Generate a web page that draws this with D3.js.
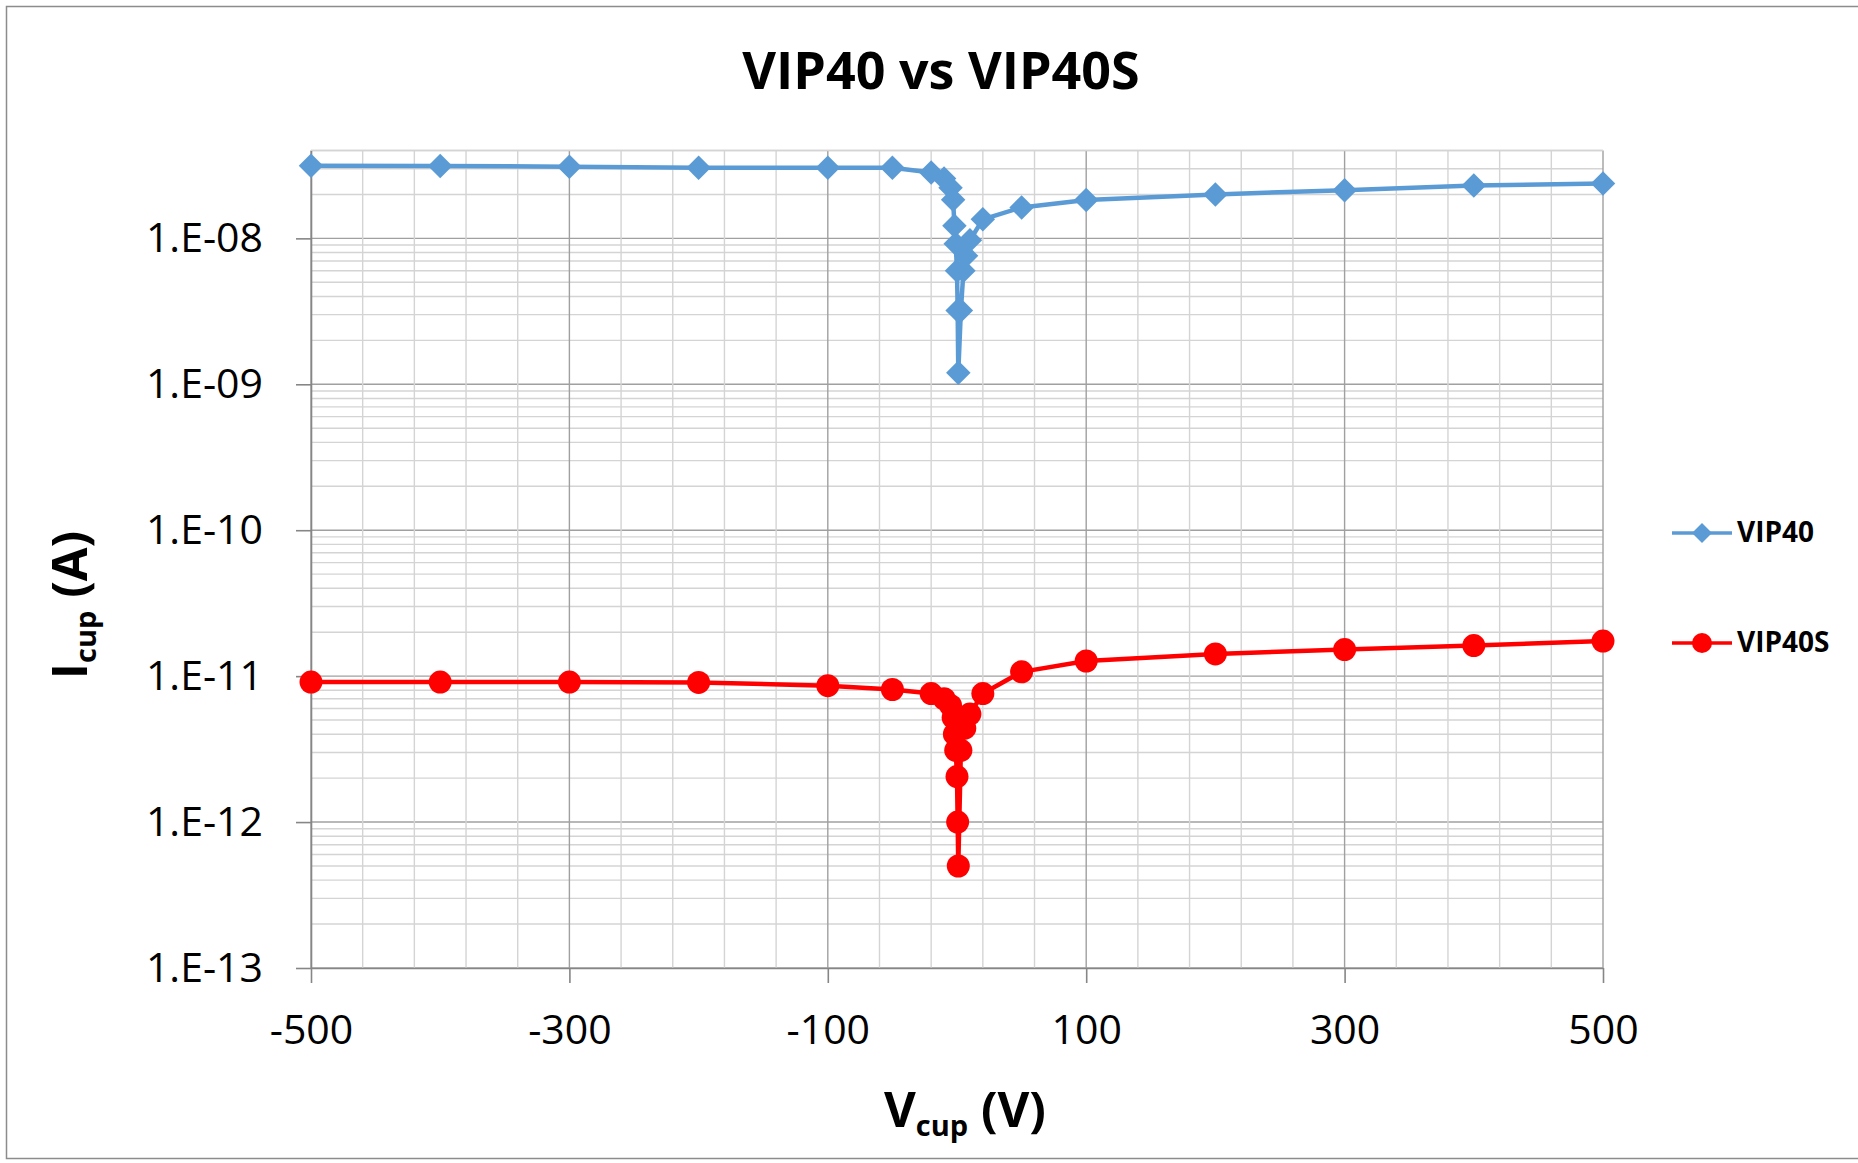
<!DOCTYPE html>
<html>
<head>
<meta charset="utf-8">
<script src="https://cdn.jsdelivr.net/npm/d3@7"></script>
<style>
  body { margin: 0; background: #fff; }
  svg { display: block; }
  text { font-family: "Open Sans", sans-serif; fill: #000; }
</style>
</head>
<body>
<script>
// VIP40 (diamonds), Vcup in V, Icup in A
var vip40V = [-500, -400, -300, -200, -100, -50, -20, -10, -5, -3, -2, -1, 0, 0.5, 1,
              3, 5, 7, 10, 20, 50, 100, 200, 300, 400, 500];
var vip40I = [3.15e-8, 3.13e-8, 3.1e-8, 3.05e-8, 3.05e-8, 3.05e-8, 2.83e-8, 2.57e-8, 2.22e-8,
              1.84e-8, 1.22e-8, 9.2e-9, 6.0e-9, 3.2e-9, 1.2e-9,
              3.2e-9, 6.0e-9, 7.6e-9, 9.7e-9, 1.35e-8, 1.63e-8, 1.83e-8, 2.0e-8, 2.14e-8, 2.3e-8, 2.38e-8];

// VIP40S (circles)
var vip40sV = [-500, -400, -300, -200, -100, -50, -20, -10, -5, -3, -2, -1, 0, 0.5, 1,
               3, 6, 10, 20, 50, 100, 200, 300, 400, 500];
var vip40sI = [9.1e-12, 9.1e-12, 9.1e-12, 9.05e-12, 8.6e-12, 8.1e-12, 7.6e-12, 7.0e-12, 6.3e-12,
               5.2e-12, 4.0e-12, 3.1e-12, 2.05e-12, 1.0e-12, 5.0e-13,
               3.1e-12, 4.4e-12, 5.5e-12, 7.6e-12, 1.07e-11, 1.27e-11, 1.42e-11, 1.52e-11, 1.62e-11, 1.74e-11];

var seriesNames = ['VIP40', 'VIP40S'];
var seriesColors = ['#5b9bd5', '#ff0000'];

var xTicks = [-500, -300, -100, 100, 300, 500];
var yTicks = [1e-13, 1e-12, 1e-11, 1e-10, 1e-9, 1e-8];
var yTickLabels = ['1.E-13', '1.E-12', '1.E-11', '1.E-10', '1.E-09', '1.E-08'];

var width = 1858, height = 1163;
var plot = {left: 311, right: 1603, top: 150.5, bottom: 968};

var svg = d3.select('body').append('svg')
  .attr('width', width)
  .attr('height', height);

// outer chart border
svg.append('rect')
  .attr('x', 6.5).attr('y', 6.5)
  .attr('width', width).attr('height', 1152)
  .attr('fill', 'none')
  .attr('stroke', '#8c8c8c')
  .attr('stroke-width', 1.5);

var x = d3.scaleLinear().domain([-500, 500]).range([plot.left, plot.right]);
var y = d3.scaleLog().domain([1e-13, 4e-8]).range([plot.bottom, plot.top]);

function isDecade(v) {
  var l = Math.log10(v);
  return Math.abs(l - Math.round(l)) < 1e-6;
}

// gridlines
var grid = svg.append('g');
var xGrid = d3.range(-500, 501, 40);
var yGrid = y.ticks();

grid.selectAll('.ygrid')
  .data(yGrid)
  .enter().append('line')
  .attr('x1', plot.left).attr('x2', plot.right)
  .attr('y1', function(d) { return y(d); })
  .attr('y2', function(d) { return y(d); })
  .attr('stroke', function(d) { return isDecade(d) ? '#a0a0a0' : '#d4d4d4'; })
  .attr('stroke-width', 1.4);

grid.selectAll('.xgrid')
  .data(xGrid)
  .enter().append('line')
  .attr('y1', plot.top).attr('y2', plot.bottom)
  .attr('x1', function(d) { return x(d); })
  .attr('x2', function(d) { return x(d); })
  .attr('stroke', function(d) { return (d + 500) % 200 === 0 ? '#a0a0a0' : '#d4d4d4'; })
  .attr('stroke-width', 1.4);

// top border of the plot area
grid.append('line')
  .attr('x1', plot.left).attr('x2', plot.right)
  .attr('y1', plot.top).attr('y2', plot.top)
  .attr('stroke', '#d4d4d4').attr('stroke-width', 1.4);

// axes
var xAxis = svg.append('g')
  .attr('transform', 'translate(0,' + plot.bottom + ')')
  .call(d3.axisBottom(x).tickValues(xTicks).tickSize(15).tickSizeOuter(0).tickPadding(32)
    .tickFormat(function(d) { return d; }));

var yAxis = svg.append('g')
  .attr('transform', 'translate(' + plot.left + ',0)')
  .call(d3.axisLeft(y).tickValues(yTicks).tickSize(15).tickSizeOuter(0).tickPadding(33)
    .tickFormat(function(d, i) { return yTickLabels[i]; }));

[xAxis, yAxis].forEach(function(a) {
  a.select('.domain').attr('stroke', '#868686').attr('stroke-width', 1.6);
  a.selectAll('.tick line').attr('stroke', '#868686').attr('stroke-width', 1.6);
  a.selectAll('.tick text')
    .attr('font-family', '"Open Sans", sans-serif')
    .attr('font-size', 41)
    .attr('fill', '#000');
});

// series
var series = [
  {name: seriesNames[0], color: seriesColors[0], v: vip40V, i: vip40I, shape: 'diamond'},
  {name: seriesNames[1], color: seriesColors[1], v: vip40sV, i: vip40sI, shape: 'circle'}
];

var line = d3.line()
  .x(function(d) { return x(d[0]); })
  .y(function(d) { return y(d[1]); });

var diamond = d3.symbol().type(d3.symbolSquare).size(300);
var diamondSmall = d3.symbol().type(d3.symbolSquare).size(200);

series.forEach(function(s) {
  var pts = s.v.map(function(v, k) { return [v, s.i[k]]; });
  var g = svg.append('g');
  g.append('path')
    .datum(pts)
    .attr('d', line)
    .attr('fill', 'none')
    .attr('stroke', s.color)
    .attr('stroke-width', 4.5)
    .attr('stroke-linejoin', 'round');

  if (s.shape === 'diamond') {
    g.selectAll('.pt')
      .data(pts)
      .enter().append('path')
      .attr('d', diamond)
      .attr('transform', function(d) { return 'translate(' + x(d[0]) + ',' + y(d[1]) + ') rotate(45)'; })
      .attr('fill', s.color);
  } else {
    g.selectAll('.pt')
      .data(pts)
      .enter().append('circle')
      .attr('cx', function(d) { return x(d[0]); })
      .attr('cy', function(d) { return y(d[1]); })
      .attr('r', 11.5)
      .attr('fill', s.color);
  }
});

// legend
var legendY = [533, 643];
series.forEach(function(s, k) {
  var g = svg.append('g').attr('transform', 'translate(1672,' + legendY[k] + ')');
  g.append('line')
    .attr('x1', 0).attr('x2', 60)
    .attr('stroke', s.color).attr('stroke-width', 3.5);
  if (s.shape === 'diamond') {
    g.append('path').attr('d', diamondSmall)
      .attr('transform', 'translate(30,0) rotate(45)')
      .attr('fill', s.color);
  } else {
    g.append('circle').attr('cx', 30).attr('r', 10).attr('fill', s.color);
  }
  g.append('text')
    .attr('x', 65).attr('y', 9)
    .attr('font-size', 28)
    .attr('font-weight', 'bold')
    .text(s.name);
});

// title
svg.append('text')
  .attr('x', 941).attr('y', 89)
  .attr('text-anchor', 'middle')
  .attr('font-size', 52)
  .attr('font-weight', 'bold')
  .text('VIP40 vs VIP40S');

// x axis title
var xt = svg.append('text')
  .attr('x', 965).attr('y', 1127)
  .attr('text-anchor', 'middle')
  .attr('font-size', 49)
  .attr('font-weight', 'bold');
xt.append('tspan').text('V');
xt.append('tspan').attr('font-size', 29).attr('dy', 9).text('cup');
xt.append('tspan').attr('dy', -9).text(' (V)');

// y axis title
var yt = svg.append('text')
  .attr('transform', 'translate(87,605) rotate(-90)')
  .attr('text-anchor', 'middle')
  .attr('font-size', 49)
  .attr('font-weight', 'bold');
yt.append('tspan').text('I');
yt.append('tspan').attr('font-size', 29).attr('dy', 9).text('cup');
yt.append('tspan').attr('dy', -9).text(' (A)');
</script>
</body>
</html>
